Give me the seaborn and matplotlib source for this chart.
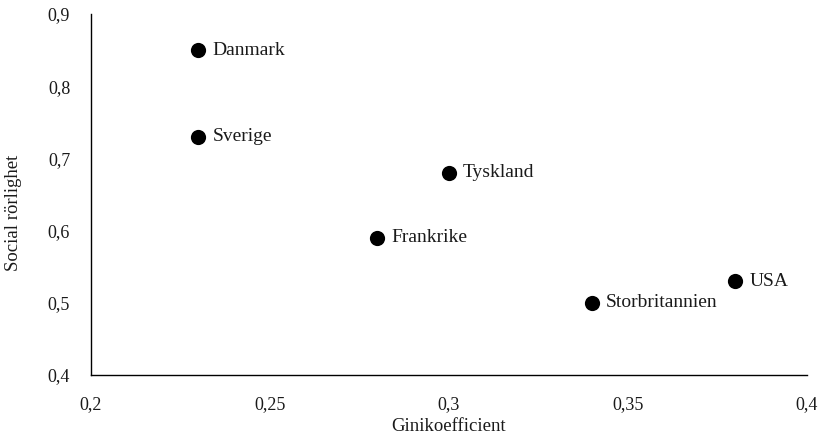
import matplotlib
matplotlib.use("Agg")
import matplotlib.pyplot as plt
import matplotlib.ticker as mticker
import seaborn as sns
import pandas as pd

countries = ["Danmark", "Sverige", "Tyskland", "Frankrike", "USA", "Storbritannien"]
gini = [0.23, 0.23, 0.30, 0.28, 0.38, 0.34]
mobility = [0.85, 0.73, 0.68, 0.59, 0.53, 0.50]

df = pd.DataFrame({"country": countries, "gini": gini, "mobility": mobility})

sns.set_style("white")
plt.rcParams["font.family"] = ["Liberation Serif", "DejaVu Serif"]

fig = plt.figure(figsize=(8.19, 4.38), dpi=100)
ax = fig.add_axes([0.1111, 0.1438, 0.8742, 0.8242])

sns.scatterplot(data=df, x="gini", y="mobility", ax=ax, s=120, color="black",
                edgecolor="black", linewidth=0, legend=False)

for _, row in df.iterrows():
    ax.annotate(row["country"], (row["gini"], row["mobility"]),
                xytext=(10, 0), textcoords="offset points",
                va="center", ha="left", fontsize=14, color="#1a1a1a")

ax.set_xlim(0.2, 0.4)
ax.set_ylim(0.4, 0.9)
ax.set_xticks([0.2, 0.25, 0.3, 0.35, 0.4])
ax.set_yticks([0.4, 0.5, 0.6, 0.7, 0.8, 0.9])

def comma_fmt(v, pos):
    s = f"{v:.2f}".rstrip("0").rstrip(".")
    return s.replace(".", ",")

ax.xaxis.set_major_formatter(mticker.FuncFormatter(comma_fmt))
ax.yaxis.set_major_formatter(mticker.FuncFormatter(comma_fmt))

for side in ["top", "right"]:
    ax.spines[side].set_visible(False)
for side in ["left", "bottom"]:
    ax.spines[side].set_color("black")
    ax.spines[side].set_linewidth(1.0)

ax.tick_params(axis="both", direction="out", length=5, width=1, color="#cccccc",
               labelsize=13, labelcolor="#1a1a1a")
ax.tick_params(axis="x", pad=10)
ax.tick_params(axis="y", pad=10)

ax.set_xlabel("Ginikoefficient", fontsize=13.5, color="#1a1a1a")
ax.xaxis.set_label_coords(0.5, -0.118)
ax.set_ylabel("Social rörlighet", fontsize=13.5, color="#1a1a1a")
ax.yaxis.set_label_coords(-0.097, 0.45)

fig.savefig("out.png", dpi=100)
